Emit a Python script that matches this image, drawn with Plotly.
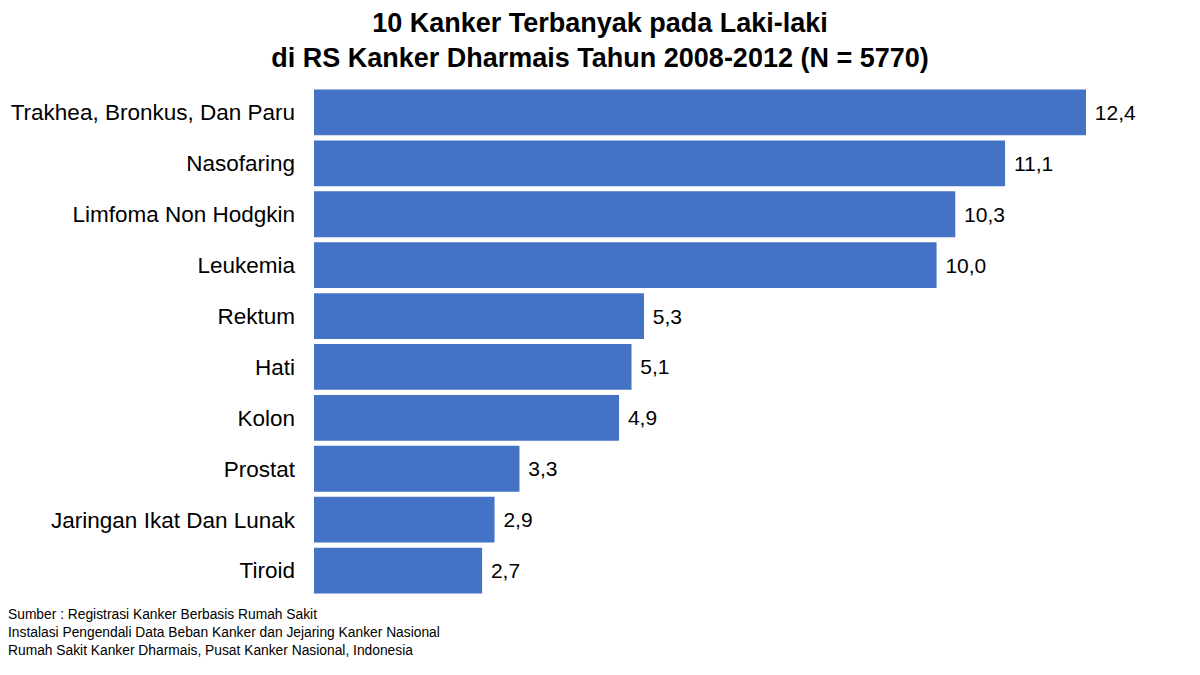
import plotly.graph_objects as go

categories = ["Trakhea, Bronkus, Dan Paru", "Nasofaring", "Limfoma Non Hodgkin", "Leukemia",
              "Rektum", "Hati", "Kolon", "Prostat", "Jaringan Ikat Dan Lunak", "Tiroid"]
values = [12.4, 11.1, 10.3, 10.0, 5.3, 5.1, 4.9, 3.3, 2.9, 2.7]

title_text = "10 Kanker Terbanyak pada Laki-laki<br>di RS Kanker Dharmais Tahun 2008-2012 (N = 5770)"
footer = ("Sumber : Registrasi Kanker Berbasis Rumah Sakit<br>"
          "Instalasi Pengendali Data Beban Kanker dan Jejaring Kanker Nasional<br>"
          "Rumah Sakit Kanker Dharmais, Pusat Kanker Nasional, Indonesia")

W, H = 1200, 675
L, R, T, B = 314, 50, 86.5, 78.5
px_per_unit = (1086 - 314) / 12.4
xmax = (W - L - R) / px_per_unit

fig = go.Figure(go.Bar(
    y=categories, x=values, orientation="h",
    marker=dict(color="#4472C4", line=dict(width=0)),
    texttemplate="\u00a0%{x:.1f}", textposition="outside",
    textfont=dict(family="Liberation Sans, Arial", size=21, color="#000000"),
    cliponaxis=False,
))

fig.update_layout(
    width=W, height=H,
    margin=dict(l=L, r=R, t=T, b=B, autoexpand=False),
    paper_bgcolor="white", plot_bgcolor="white",
    separators=",.",
    bargap=0.1,
    showlegend=False,
    font=dict(family="Liberation Sans, Arial", color="#000000"),
    title=dict(text=title_text, x=0.5, xanchor="center", xref="container",
               y=1 - 32 / H, yanchor="middle", yref="container",
               font=dict(family="Liberation Sans, Arial", size=27,
                         color="#000000", weight="bold")),
    xaxis=dict(range=[0, xmax], visible=False, fixedrange=True),
    yaxis=dict(autorange="reversed", showgrid=False, zeroline=False, showline=False,
               ticks="", tickfont=dict(size=22.5, color="#000000"), ticklabelstandoff=18),
    annotations=[dict(text=footer, xref="paper", yref="paper", x=(6 - L) / (W - L - R),
                      y=-(606 - (H - B)) / (H - T - B),
                      xanchor="left", yanchor="top", align="left", showarrow=False,
                      font=dict(size=13.8, color="#000000", family="Liberation Sans, Arial"))],
)

fig.write_html("out.html", config={"displayModeBar": False},
               post_script="document.body.style.margin='0';document.body.style.padding='0';")
